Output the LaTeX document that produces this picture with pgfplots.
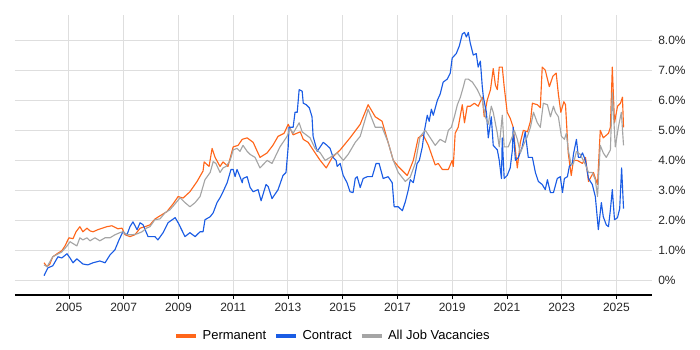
\documentclass[border=0pt]{standalone}
\usepackage{pgfplots}
\pgfplotsset{compat=1.18}
\usepackage{fontspec}
\setmainfont{Liberation Sans}
\definecolor{perm}{RGB}{255,102,26}
\definecolor{cont}{RGB}{26,92,228}
\definecolor{allj}{RGB}{165,165,165}
\definecolor{gridc}{RGB}{222,222,222}
\begin{document}
\begin{tikzpicture}
\path[use as bounding box] (-11.25pt,-41.25pt) rectangle (513.75pt,221.25pt);
\begin{axis}[
  at={(0,0)}, anchor=south west,
  scale only axis, width=477.75pt, height=210pt,
  xmin=2003.03, xmax=2026.3, ymin=-0.47, ymax=8.83,
  axis x line*=bottom, axis y line*=right,
  x axis line style={-, black, line width=0.8pt},
  y axis line style={draw=none},
  xtick={2005,2007,2009,2011,2013,2015,2017,2019,2021,2023,2025},
  xticklabels={2005,2007,2009,2011,2013,2015,2017,2019,2021,2023,2025},
  ytick={0,1,2,3,4,5,6,7,8},
  yticklabels={0\%,1.0\%,2.0\%,3.0\%,4.0\%,5.0\%,6.0\%,7.0\%,8.0\%},
  tick align=outside, major tick length=3pt,
  xtick style={draw=black, line width=0.6pt},
  ytick style={draw=none},
  grid=major, major grid style={draw=gridc, line width=0.7pt},
  tick label style={font=\fontsize{9}{10}\selectfont, text=black!85},
  xticklabel style={inner sep=0pt, yshift=-3pt},
  yticklabel style={anchor=west, inner sep=0pt, xshift=1.5pt},
  legend columns=3,
  legend style={at={(0.5,0)}, anchor=center, yshift=-30.75pt, draw=none, fill=none,
    font=\fontsize{9.75}{11}\selectfont, inner sep=0pt,
    /tikz/every odd column/.append style={column sep=1.5pt},
    /tikz/every even column/.append style={column sep=4.25pt}},
  legend image code/.code={\draw[line width=2.5pt] (0pt,0pt) -- (15pt,0pt);},
  every axis plot/.append style={line width=0.85pt, line join=round},
]
\addplot[perm] coordinates {(2004.09,0.60) (2004.20,0.47) (2004.30,0.55) (2004.41,0.80) (2004.60,0.92) (2004.74,1.00) (2004.85,1.15) (2005.00,1.43) (2005.15,1.40) (2005.26,1.63) (2005.40,1.80) (2005.51,1.63) (2005.66,1.75) (2005.77,1.66) (2005.88,1.63) (2006.06,1.70) (2006.39,1.80) (2006.57,1.83) (2006.79,1.73) (2006.94,1.75) (2007.05,1.53) (2007.23,1.47) (2007.41,1.53) (2007.60,1.75) (2007.78,1.80) (2007.96,1.86) (2008.14,2.05) (2008.22,2.10) (2008.40,2.20) (2008.58,2.30) (2008.80,2.55) (2008.99,2.80) (2009.17,2.75) (2009.42,2.96) (2009.68,3.30) (2009.90,3.65) (2009.94,3.95) (2010.12,3.80) (2010.23,4.40) (2010.34,4.10) (2010.52,3.80) (2010.63,3.95) (2010.81,3.80) (2011.00,4.45) (2011.18,4.50) (2011.33,4.70) (2011.51,4.75) (2011.73,4.60) (2011.98,4.10) (2012.24,4.25) (2012.45,4.50) (2012.64,4.80) (2012.86,4.90) (2013.01,5.20) (2013.19,4.85) (2013.45,4.95) (2013.56,4.70) (2013.74,4.60) (2013.92,4.35) (2014.18,4.00) (2014.40,3.75) (2014.62,4.10) (2014.91,4.35) (2015.27,4.75) (2015.64,5.20) (2015.93,5.85) (2016.19,5.45) (2016.44,5.30) (2016.66,4.60) (2016.85,4.00) (2017.03,3.80) (2017.36,3.50) (2017.58,4.00) (2017.76,4.75) (2017.94,4.85) (2018.13,4.50) (2018.38,3.85) (2018.49,3.90) (2018.64,3.70) (2018.86,3.70) (2019.00,4.00) (2019.04,3.80) (2019.11,4.90) (2019.22,5.10) (2019.37,5.85) (2019.45,5.25) (2019.55,5.80) (2019.66,5.80) (2019.81,5.90) (2019.95,5.80) (2020.10,6.10) (2020.17,5.45) (2020.28,6.00) (2020.40,6.35) (2020.50,7.05) (2020.58,6.50) (2020.65,6.35) (2020.72,7.10) (2020.83,7.10) (2020.90,6.45) (2021.01,5.60) (2021.12,5.40) (2021.23,5.10) (2021.31,4.35) (2021.38,3.75) (2021.49,4.60) (2021.60,5.00) (2021.75,4.95) (2021.86,5.30) (2021.93,5.90) (2022.11,5.85) (2022.22,5.75) (2022.29,7.10) (2022.40,7.00) (2022.55,6.45) (2022.68,6.80) (2022.80,6.90) (2022.88,6.20) (2022.97,5.60) (2023.08,5.95) (2023.14,5.85) (2023.24,4.25) (2023.35,3.50) (2023.43,4.00) (2023.57,4.00) (2023.76,3.90) (2023.87,4.10) (2023.98,3.30) (2024.16,3.60) (2024.31,3.20) (2024.41,5.00) (2024.52,4.75) (2024.71,4.90) (2024.78,5.10) (2024.85,7.10) (2024.93,5.25) (2025.04,5.80) (2025.15,5.90) (2025.22,6.10) (2025.26,5.10)};
\addlegendentry{Permanent}
\addplot[cont] coordinates {(2004.09,0.17) (2004.23,0.43) (2004.41,0.50) (2004.60,0.80) (2004.74,0.76) (2004.93,0.90) (2005.04,0.76) (2005.15,0.60) (2005.29,0.73) (2005.51,0.56) (2005.69,0.53) (2005.88,0.60) (2006.13,0.66) (2006.32,0.60) (2006.50,0.86) (2006.68,1.03) (2006.83,1.36) (2006.97,1.63) (2007.12,1.53) (2007.23,1.80) (2007.34,1.96) (2007.49,1.70) (2007.60,1.93) (2007.71,1.86) (2007.89,1.47) (2008.14,1.47) (2008.25,1.36) (2008.44,1.60) (2008.62,1.93) (2008.88,2.10) (2008.99,1.93) (2009.17,1.60) (2009.24,1.47) (2009.42,1.60) (2009.61,1.47) (2009.79,1.63) (2009.90,1.63) (2009.97,2.03) (2010.16,2.13) (2010.27,2.26) (2010.41,2.60) (2010.52,2.76) (2010.63,2.96) (2010.78,3.26) (2010.92,3.70) (2011.00,3.70) (2011.07,3.46) (2011.14,3.70) (2011.25,3.46) (2011.33,3.26) (2011.36,3.40) (2011.51,3.46) (2011.62,3.10) (2011.73,2.96) (2011.91,3.03) (2012.02,2.66) (2012.20,3.20) (2012.28,3.13) (2012.42,2.73) (2012.64,3.03) (2012.82,3.50) (2012.93,3.60) (2013.01,4.45) (2013.04,5.10) (2013.19,5.10) (2013.26,5.60) (2013.34,5.60) (2013.41,6.35) (2013.52,6.30) (2013.56,5.90) (2013.67,5.85) (2013.78,5.75) (2013.88,5.45) (2013.92,4.80) (2014.07,4.30) (2014.18,4.45) (2014.29,4.60) (2014.43,4.50) (2014.54,4.40) (2014.65,4.10) (2014.76,4.00) (2014.80,3.80) (2014.91,3.90) (2015.02,3.50) (2015.16,3.26) (2015.27,2.96) (2015.38,2.93) (2015.46,3.40) (2015.53,3.46) (2015.64,3.10) (2015.75,3.40) (2015.90,3.46) (2016.08,3.46) (2016.22,3.90) (2016.33,3.90) (2016.48,3.40) (2016.66,3.46) (2016.81,3.26) (2016.88,2.46) (2017.03,2.46) (2017.18,2.33) (2017.29,2.63) (2017.40,3.03) (2017.47,3.36) (2017.58,3.26) (2017.72,3.90) (2017.80,4.00) (2017.91,4.45) (2017.98,4.95) (2018.09,5.50) (2018.16,5.30) (2018.24,5.70) (2018.31,5.50) (2018.46,6.00) (2018.56,6.20) (2018.67,6.60) (2018.82,6.70) (2018.93,6.90) (2019.00,7.40) (2019.15,7.55) (2019.26,7.80) (2019.37,8.20) (2019.45,8.25) (2019.52,8.10) (2019.59,8.25) (2019.66,7.90) (2019.77,7.50) (2019.88,7.55) (2019.95,7.10) (2020.03,7.30) (2020.10,6.45) (2020.14,6.10) (2020.25,5.60) (2020.32,4.75) (2020.43,5.45) (2020.50,4.50) (2020.65,4.35) (2020.72,4.00) (2020.80,3.40) (2020.83,4.75) (2020.90,3.40) (2021.01,3.50) (2021.12,3.75) (2021.20,4.35) (2021.23,5.10) (2021.31,4.00) (2021.42,4.10) (2021.56,4.45) (2021.67,4.95) (2021.78,4.10) (2021.93,4.10) (2022.04,3.60) (2022.15,3.30) (2022.29,3.20) (2022.40,3.03) (2022.48,3.36) (2022.59,2.93) (2022.70,2.93) (2022.84,3.40) (2022.95,3.46) (2023.03,2.93) (2023.10,3.40) (2023.21,3.46) (2023.28,3.80) (2023.39,3.90) (2023.43,4.20) (2023.54,4.70) (2023.61,4.10) (2023.68,4.10) (2023.76,4.25) (2023.87,4.00) (2023.98,3.40) (2024.05,3.30) (2024.12,3.20) (2024.23,2.80) (2024.34,1.70) (2024.45,2.60) (2024.52,2.13) (2024.63,1.86) (2024.71,1.80) (2024.78,2.36) (2024.85,3.03) (2024.93,2.03) (2025.04,2.10) (2025.12,2.40) (2025.19,3.75) (2025.26,2.40)};
\addlegendentry{Contract}
\addplot[allj] coordinates {(2004.09,0.53) (2004.20,0.47) (2004.41,0.80) (2004.74,0.96) (2004.93,1.16) (2005.04,1.30) (2005.29,1.16) (2005.40,1.43) (2005.51,1.36) (2005.66,1.43) (2005.77,1.33) (2005.95,1.43) (2006.13,1.33) (2006.32,1.43) (2006.50,1.43) (2006.68,1.53) (2006.86,1.60) (2006.97,1.63) (2007.12,1.53) (2007.30,1.53) (2007.49,1.56) (2007.67,1.63) (2007.85,1.76) (2007.96,1.80) (2008.14,2.03) (2008.33,2.06) (2008.51,2.26) (2008.69,2.36) (2008.88,2.56) (2009.06,2.76) (2009.24,2.60) (2009.42,2.46) (2009.61,2.60) (2009.79,2.80) (2009.97,3.36) (2010.16,3.60) (2010.27,3.96) (2010.37,3.90) (2010.52,3.60) (2010.63,3.75) (2010.74,3.80) (2010.89,4.00) (2011.00,4.35) (2011.14,4.40) (2011.25,4.30) (2011.36,4.50) (2011.51,4.30) (2011.62,4.20) (2011.80,4.10) (2011.98,3.75) (2012.24,4.00) (2012.42,3.90) (2012.71,4.45) (2012.97,4.80) (2013.08,5.05) (2013.19,4.90) (2013.41,5.25) (2013.52,4.95) (2013.81,4.75) (2013.99,4.40) (2014.18,4.25) (2014.36,4.00) (2014.54,4.10) (2014.80,4.25) (2015.02,4.00) (2015.20,4.20) (2015.46,4.60) (2015.64,4.80) (2015.93,5.70) (2016.19,5.10) (2016.44,5.10) (2016.66,4.60) (2016.85,4.00) (2017.03,3.60) (2017.29,3.30) (2017.47,3.45) (2017.65,3.90) (2017.83,4.80) (2018.02,5.00) (2018.20,4.75) (2018.38,4.50) (2018.56,4.70) (2018.75,4.60) (2018.86,5.00) (2018.97,5.10) (2019.08,5.45) (2019.19,5.85) (2019.30,6.10) (2019.41,6.45) (2019.48,6.70) (2019.59,6.70) (2019.74,6.60) (2019.92,6.35) (2020.10,6.00) (2020.21,5.45) (2020.32,5.20) (2020.43,5.80) (2020.50,5.60) (2020.65,4.90) (2020.72,4.45) (2020.83,5.50) (2020.90,4.45) (2021.05,4.45) (2021.20,4.80) (2021.27,5.00) (2021.38,4.70) (2021.49,4.25) (2021.60,4.50) (2021.75,4.80) (2021.86,5.10) (2021.97,5.60) (2022.11,5.25) (2022.22,5.10) (2022.33,5.90) (2022.48,5.85) (2022.59,5.45) (2022.70,5.80) (2022.77,5.60) (2022.88,5.45) (2022.99,4.80) (2023.10,4.70) (2023.17,4.90) (2023.24,4.35) (2023.35,3.85) (2023.43,3.90) (2023.54,4.30) (2023.68,4.20) (2023.87,3.85) (2023.98,3.60) (2024.12,3.60) (2024.23,3.35) (2024.31,2.80) (2024.41,4.50) (2024.52,4.25) (2024.63,4.10) (2024.78,4.35) (2024.85,6.25) (2024.96,4.45) (2025.07,5.10) (2025.18,5.60) (2025.26,4.50)};
\addlegendentry{All Job Vacancies}
\end{axis}
\end{tikzpicture}
\end{document}
